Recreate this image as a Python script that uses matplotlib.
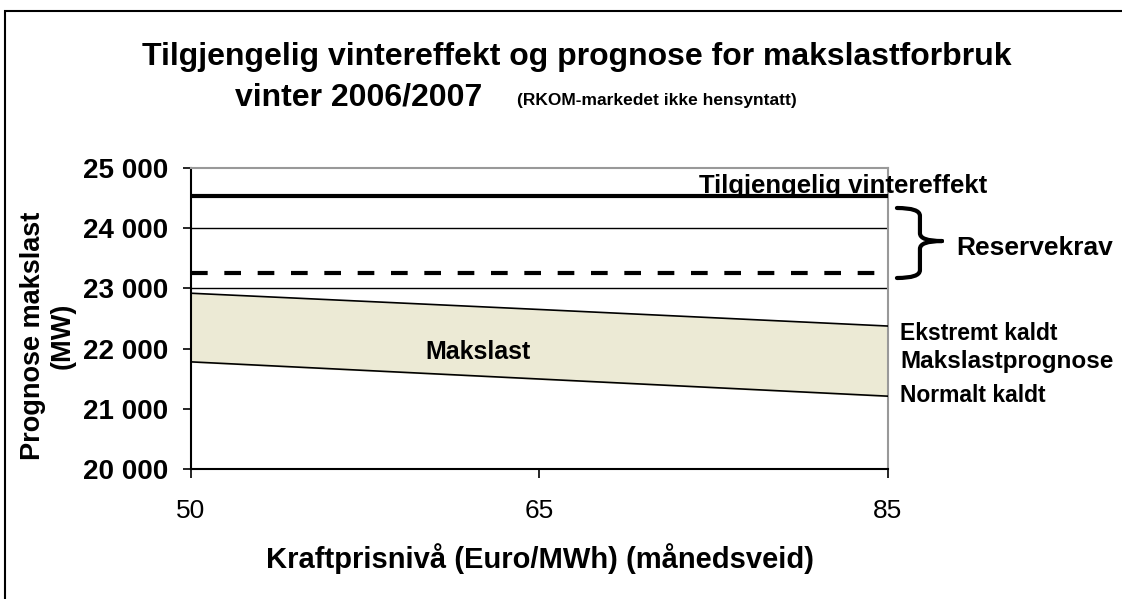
import matplotlib.pyplot as plt
from matplotlib.patches import Rectangle, PathPatch
from matplotlib.path import Path
import matplotlib.transforms as mtransforms

plt.rcParams['font.family'] = ['Liberation Sans', 'DejaVu Sans']

# data
prices = ["50", "65", "85"]
ekstremt_kaldt = [22920, 22650, 22375]
normalt_kaldt = [21780, 21495, 21210]
tilgjengelig = [24530, 24530, 24530]
reservegrense = [23250, 23250, 23250]
y_ticks = [20000, 21000, 22000, 23000, 24000, 25000]

x = list(range(len(prices)))

fig = plt.figure(figsize=(11.22, 5.99), dpi=100)
ax = fig.add_axes([0.1702, 0.2170, 0.6212, 0.5025])
side_trans = mtransforms.blended_transform_factory(ax.transAxes, ax.transData)

# only these gridlines show in the original
for g in [23000, 24000]:
    ax.axhline(g, color="black", lw=1.0, zorder=1)

ax.fill_between(x, normalt_kaldt, ekstremt_kaldt, color="#ECEAD5", zorder=2)
ax.plot(x, ekstremt_kaldt, color="black", lw=1.2, zorder=3)
ax.plot(x, normalt_kaldt, color="black", lw=1.2, zorder=3)
ax.plot(x, tilgjengelig, color="black", lw=3, zorder=4, solid_capstyle="butt")
ax.plot(x, reservegrense, color="black", lw=3, ls=(0, (4, 4)), zorder=4)

ax.set_xlim(0, 2)
ax.set_ylim(20000, 25000)
ax.set_xticks(x)
ax.set_xticklabels(prices, fontsize=19)
ax.set_yticks(y_ticks)
ax.set_yticklabels([f"{v:,}".replace(",", " ") for v in y_ticks],
                   fontsize=20, fontweight="bold")
ax.tick_params(axis="y", direction="out", length=6, width=1.2, pad=10.5)
ax.tick_params(axis="x", direction="out", length=6.5, width=1.2, pad=15)

for side in ["top", "right"]:
    ax.spines[side].set_color("#999999")
    ax.spines[side].set_linewidth(1.5)
for side in ["left", "bottom"]:
    ax.spines[side].set_linewidth(1.5)

fig.text(48 / 1122, 1 - 336 / 599, "Prognose makslast\n(MW)", rotation=90,
         fontsize=19.5, fontweight="bold", ha="center", va="center",
         linespacing=1.2, multialignment="center")
fig.text(540 / 1122, 1 - 568 / 599, "Kraftprisnivå (Euro/MWh) (månedsveid)",
         fontsize=21, fontweight="bold", ha="center", va="baseline")

# annotations
ax.text(1.458, tilgjengelig[0] + 55, "Tilgjengelig vintereffekt", fontsize=18.5,
        fontweight="bold", ha="left", va="baseline", clip_on=False, zorder=3)
ax.text(0.8235, 21943, "Makslast", fontsize=18, fontweight="bold",
        ha="center", va="center", zorder=5)
ax.text(1.0175, 22259, "Ekstremt kaldt", fontsize=16.5, fontweight="bold",
        ha="left", va="center", transform=side_trans, clip_on=False)
ax.text(1.0175, 21794, "Makslastprognose", fontsize=17.5, fontweight="bold",
        ha="left", va="center", transform=side_trans, clip_on=False)
ax.text(1.0175, 21229, "Normalt kaldt", fontsize=16.5, fontweight="bold",
        ha="left", va="center", transform=side_trans, clip_on=False)
ax.text(1.0983, 23671, "Reservekrav", fontsize=19, fontweight="bold",
        ha="left", va="center", transform=side_trans, clip_on=False)

# curly brace for Reservekrav
top, bot, mid = 24336, 23173, 23787
x0, x1, xt = 1.0129, 1.0459, 1.0775
r = 130
verts = [
    (x0, top), (x1, top), (x1, top - r),
    (x1, mid + r), (x1, mid), (xt, mid),
    (xt, mid), (x1, mid), (x1, mid - r),
    (x1, bot + r), (x1, bot), (x0, bot),
]
codes = [Path.MOVETO, Path.CURVE3, Path.CURVE3,
         Path.LINETO, Path.CURVE3, Path.CURVE3,
         Path.MOVETO, Path.CURVE3, Path.CURVE3,
         Path.LINETO, Path.CURVE3, Path.CURVE3]
brace = PathPatch(Path(verts, codes), transform=side_trans, fill=False,
                  lw=3, color="black", clip_on=False, capstyle="round")
ax.add_patch(brace)

# titles
fig.text(142 / 1122, 1 - 65 / 599,
         "Tilgjengelig vintereffekt og prognose for makslastforbruk",
         fontsize=23, fontweight="bold", ha="left", va="baseline")
fig.text(235 / 1122, 1 - 105 / 599, "vinter 2006/2007", fontsize=23,
         fontweight="bold", ha="left", va="baseline")
fig.text(517 / 1122, 1 - 105 / 599, "(RKOM-markedet ikke hensyntatt)",
         fontsize=12.5, fontweight="bold", ha="left", va="baseline")

# outer frame
fig.patches.append(Rectangle((5 / 1122, -0.1), 1.2, 1.1 - 11 / 599,
                             transform=fig.transFigure, fill=False,
                             lw=1.5, color="black"))

fig.savefig("out.png", dpi=100)
